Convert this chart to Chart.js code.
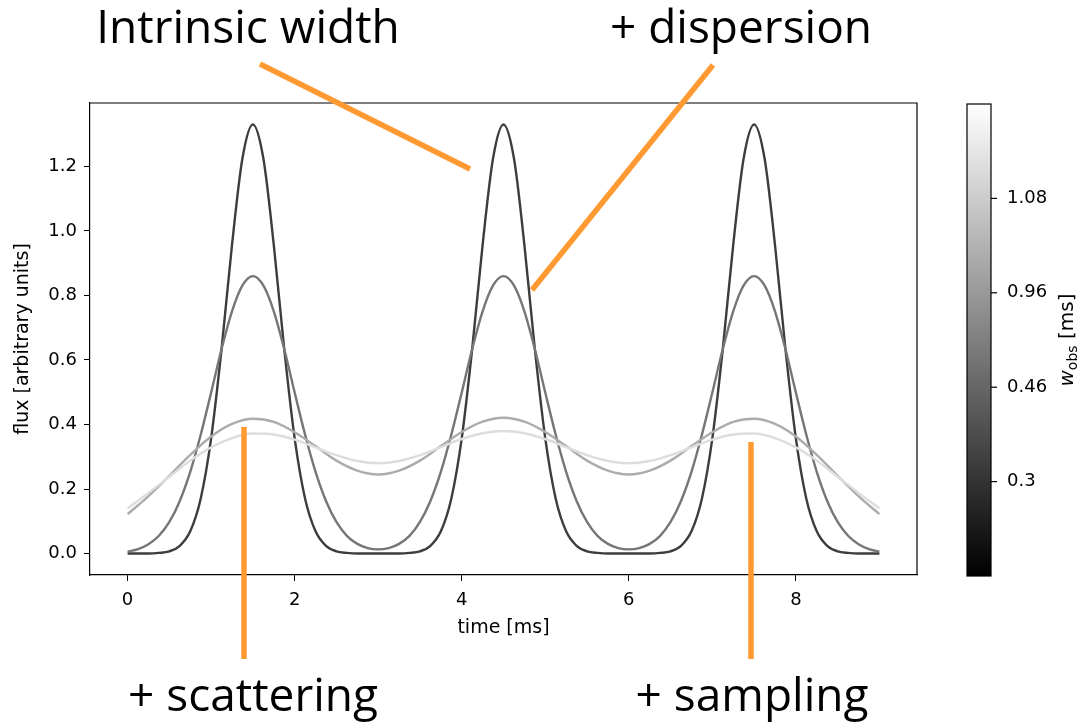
<!DOCTYPE html>
<html>
<head>
<meta charset="utf-8">
<script src="https://cdn.jsdelivr.net/npm/chart.js@4.4.1/dist/chart.umd.min.js"></script>
<style>
  html, body { margin: 0; padding: 0; background: #fff; }
</style>
</head>
<body>
<canvas id="pulse-canvas" width="1079" height="727"></canvas>
<script>
// time grids [ms]
const timesFine = [
  0, 0.125, 0.25, 0.375, 0.5, 0.625, 0.75, 0.875, 1, 1.125, 1.25, 1.375, 1.5, 1.625, 1.75, 1.875,
  2, 2.125, 2.25, 2.375, 2.5, 2.625, 2.75, 2.875, 3, 3.125, 3.25, 3.375, 3.5, 3.625, 3.75, 3.875,
  4, 4.125, 4.25, 4.375, 4.5, 4.625, 4.75, 4.875, 5, 5.125, 5.25, 5.375, 5.5, 5.625, 5.75, 5.875,
  6, 6.125, 6.25, 6.375, 6.5, 6.625, 6.75, 6.875, 7, 7.125, 7.25, 7.375, 7.5, 7.625, 7.75, 7.875,
  8, 8.125, 8.25, 8.375, 8.5, 8.625, 8.75, 8.875, 9
];
const timesCoarse = [
  0, 0.25, 0.5, 0.75, 1, 1.25, 1.5, 1.75, 2, 2.25, 2.5, 2.75, 3, 3.25, 3.5, 3.75,
  4, 4.25, 4.5, 4.75, 5, 5.25, 5.5, 5.75, 6, 6.25, 6.5, 6.75, 7, 7.25, 7.5, 7.75,
  8, 8.25, 8.5, 8.75, 9
];

// flux
const fluxIntrinsic = [
  0, 0, 0, 0.002, 0.007, 0.024, 0.069, 0.170, 0.357, 0.634, 0.957, 1.225, 1.330, 1.225, 0.957, 0.634, 0.357, 0.170, 0.069, 0.024, 0.007, 0.002, 0, 0,
  0, 0, 0, 0.002, 0.007, 0.024, 0.069, 0.170, 0.357, 0.634, 0.957, 1.225, 1.330, 1.225, 0.957, 0.634, 0.357, 0.170, 0.069, 0.024, 0.007, 0.002, 0, 0,
  0, 0, 0, 0.002, 0.007, 0.024, 0.069, 0.170, 0.357, 0.634, 0.957, 1.225, 1.330, 1.225, 0.957, 0.634, 0.357, 0.170, 0.069, 0.024, 0.007, 0.002, 0, 0,
  0
];
const fluxDispersion = [
  0.006, 0.014, 0.029, 0.055, 0.098, 0.163, 0.253, 0.368, 0.499, 0.634, 0.751, 0.831, 0.860, 0.831, 0.751, 0.634, 0.499, 0.368, 0.253, 0.163, 0.098, 0.055, 0.030, 0.017,
  0.013, 0.017, 0.030, 0.055, 0.098, 0.163, 0.253, 0.368, 0.499, 0.634, 0.751, 0.831, 0.860, 0.831, 0.751, 0.634, 0.499, 0.368, 0.253, 0.163, 0.098, 0.055, 0.030, 0.017,
  0.013, 0.017, 0.030, 0.055, 0.098, 0.163, 0.253, 0.368, 0.499, 0.634, 0.751, 0.831, 0.860, 0.831, 0.751, 0.634, 0.499, 0.368, 0.253, 0.163, 0.098, 0.055, 0.029, 0.014,
  0.006
];
const fluxScattering = [
  0.122, 0.178, 0.241, 0.306, 0.363, 0.402, 0.418, 0.408, 0.376, 0.333, 0.288, 0.257,
  0.245, 0.257, 0.288, 0.333, 0.377, 0.409, 0.421, 0.409, 0.377, 0.333, 0.288, 0.257,
  0.245, 0.257, 0.288, 0.333, 0.376, 0.408, 0.418, 0.402, 0.363, 0.306, 0.241, 0.178,
  0.122
];
const fluxSampling = [
  0.140, 0.188, 0.238, 0.288, 0.329, 0.358, 0.372, 0.369, 0.353, 0.329, 0.305, 0.287,
  0.280, 0.287, 0.305, 0.330, 0.355, 0.373, 0.380, 0.373, 0.355, 0.330, 0.305, 0.287,
  0.280, 0.287, 0.305, 0.329, 0.353, 0.369, 0.372, 0.358, 0.329, 0.288, 0.238, 0.188,
  0.140
];

// colorbar
const widthTicks = ["0.3", "0.46", "0.96", "1.08"];
const lineGrays = ["#3d3d3d", "#767676", "#acacac", "#dddddd"];

// big labels + orange pointers (figure pixels)
const notes = [
  { text: "Intrinsic width", x: 248, y: 43, line: [260, 64, 470, 169] },
  { text: "+ dispersion", x: 741, y: 43, line: [713, 65, 532, 290] },
  { text: "+ scattering", x: 253, y: 711, line: [244, 427, 244, 659] },
  { text: "+ sampling", x: 752, y: 711, line: [751, 442, 751, 659] },
];

const toPoints = (xs, ys) => xs.map((x, i) => ({ x: x, y: ys[i] }));

const tickFont = { family: "DejaVu Sans", size: 18 };
const titleFont = { family: "DejaVu Sans", size: 19 };

const extras = {
  id: "extras",
  afterDraw(chart) {
    const ctx = chart.ctx;
    const a = chart.chartArea;
    ctx.save();

    // top / right spines
    ctx.strokeStyle = "#000";
    ctx.lineWidth = 1.2;
    ctx.beginPath();
    ctx.moveTo(a.left, a.top);
    ctx.lineTo(a.right, a.top);
    ctx.lineTo(a.right, a.bottom);
    ctx.stroke();

    // colorbar
    const cbL = 967, cbR = 991, cbT = 104, cbB = 576;
    const grad = ctx.createLinearGradient(0, cbB, 0, cbT);
    grad.addColorStop(0, "#000");
    grad.addColorStop(1, "#fff");
    ctx.fillStyle = grad;
    ctx.fillRect(cbL, cbT, cbR - cbL, cbB - cbT);
    ctx.strokeRect(cbL, cbT, cbR - cbL, cbB - cbT);

    ctx.font = "18px 'DejaVu Sans'";
    ctx.fillStyle = "#000";
    ctx.textBaseline = "middle";
    ctx.textAlign = "left";
    widthTicks.forEach((t, i) => {
      const y = cbB - (cbB - cbT) * (i + 1) / (widthTicks.length + 1);
      ctx.beginPath();
      ctx.moveTo(cbR, y);
      ctx.lineTo(cbR + 6, y);
      ctx.stroke();
      ctx.fillText(t, cbR + 16, y);
    });

    // w_obs [ms]
    ctx.translate(1066, (cbT + cbB) / 2);
    ctx.rotate(-Math.PI / 2);
    const f1 = "italic 20px 'DejaVu Sans'", f2 = "14px 'DejaVu Sans'", f3 = "20px 'DejaVu Sans'";
    ctx.font = f1; const w1 = ctx.measureText("w").width;
    ctx.font = f2; const w2 = ctx.measureText("obs").width;
    ctx.font = f3; const w3 = ctx.measureText(" [ms]").width;
    let x0 = -(w1 + w2 + w3) / 2;
    ctx.textBaseline = "alphabetic";
    ctx.font = f1; ctx.fillText("w", x0, 7); x0 += w1;
    ctx.font = f2; ctx.fillText("obs", x0, 11); x0 += w2;
    ctx.font = f3; ctx.fillText(" [ms]", x0, 7);
    ctx.setTransform(1, 0, 0, 1, 0, 0);

    // annotations
    ctx.strokeStyle = "#ff9a33";
    ctx.lineWidth = 5.5;
    ctx.lineCap = "butt";
    ctx.font = "46px 'Open Sans'";
    ctx.textAlign = "center";
    ctx.textBaseline = "alphabetic";
    notes.forEach(n => {
      ctx.beginPath();
      ctx.moveTo(n.line[0], n.line[1]);
      ctx.lineTo(n.line[2], n.line[3]);
      ctx.stroke();
      ctx.fillText(n.text, n.x, n.y);
    });
    ctx.restore();
  },
};

const lineSet = (data, color) => ({
  data: data,
  borderColor: color,
  borderWidth: 2.4,
  pointRadius: 0,
  fill: false,
  cubicInterpolationMode: "monotone",
});

new Chart(document.getElementById("pulse-canvas"), {
  type: "line",
  data: {
    datasets: [
      lineSet(toPoints(timesCoarse, fluxSampling), lineGrays[3]),
      lineSet(toPoints(timesCoarse, fluxScattering), lineGrays[2]),
      lineSet(toPoints(timesFine, fluxDispersion), lineGrays[1]),
      lineSet(toPoints(timesFine, fluxIntrinsic), lineGrays[0]),
    ],
  },
  options: {
    responsive: false,
    animation: false,
    layout: { padding: { left: 0, top: 103, right: 162, bottom: 88 } },
    plugins: { legend: { display: false }, tooltip: { enabled: false } },
    scales: {
      x: {
        type: "linear",
        min: -0.45,
        max: 9.45,
        ticks: { stepSize: 2, includeBounds: false, color: "#000", font: tickFont, padding: 9 },
        grid: { drawOnChartArea: false, tickLength: 6, color: "#000" },
        border: { color: "#000", width: 1.2 },
        title: { display: true, text: "time [ms]", color: "#000", font: titleFont, padding: 0 },
        afterFit(s) { s.height = 64; },
      },
      y: {
        min: -0.0665,
        max: 1.3965,
        ticks: {
          stepSize: 0.2, includeBounds: false, color: "#000", font: tickFont, padding: 7,
          callback: v => v.toFixed(1),
        },
        grid: { drawOnChartArea: false, tickLength: 6, color: "#000" },
        border: { color: "#000", width: 1.2 },
        title: { display: true, text: "flux [arbitrary units]", color: "#000", font: titleFont, padding: { top: 12 } },
        afterFit(s) { s.width = 90; },
      },
    },
  },
  plugins: [extras],
});
</script>
</body>
</html>
